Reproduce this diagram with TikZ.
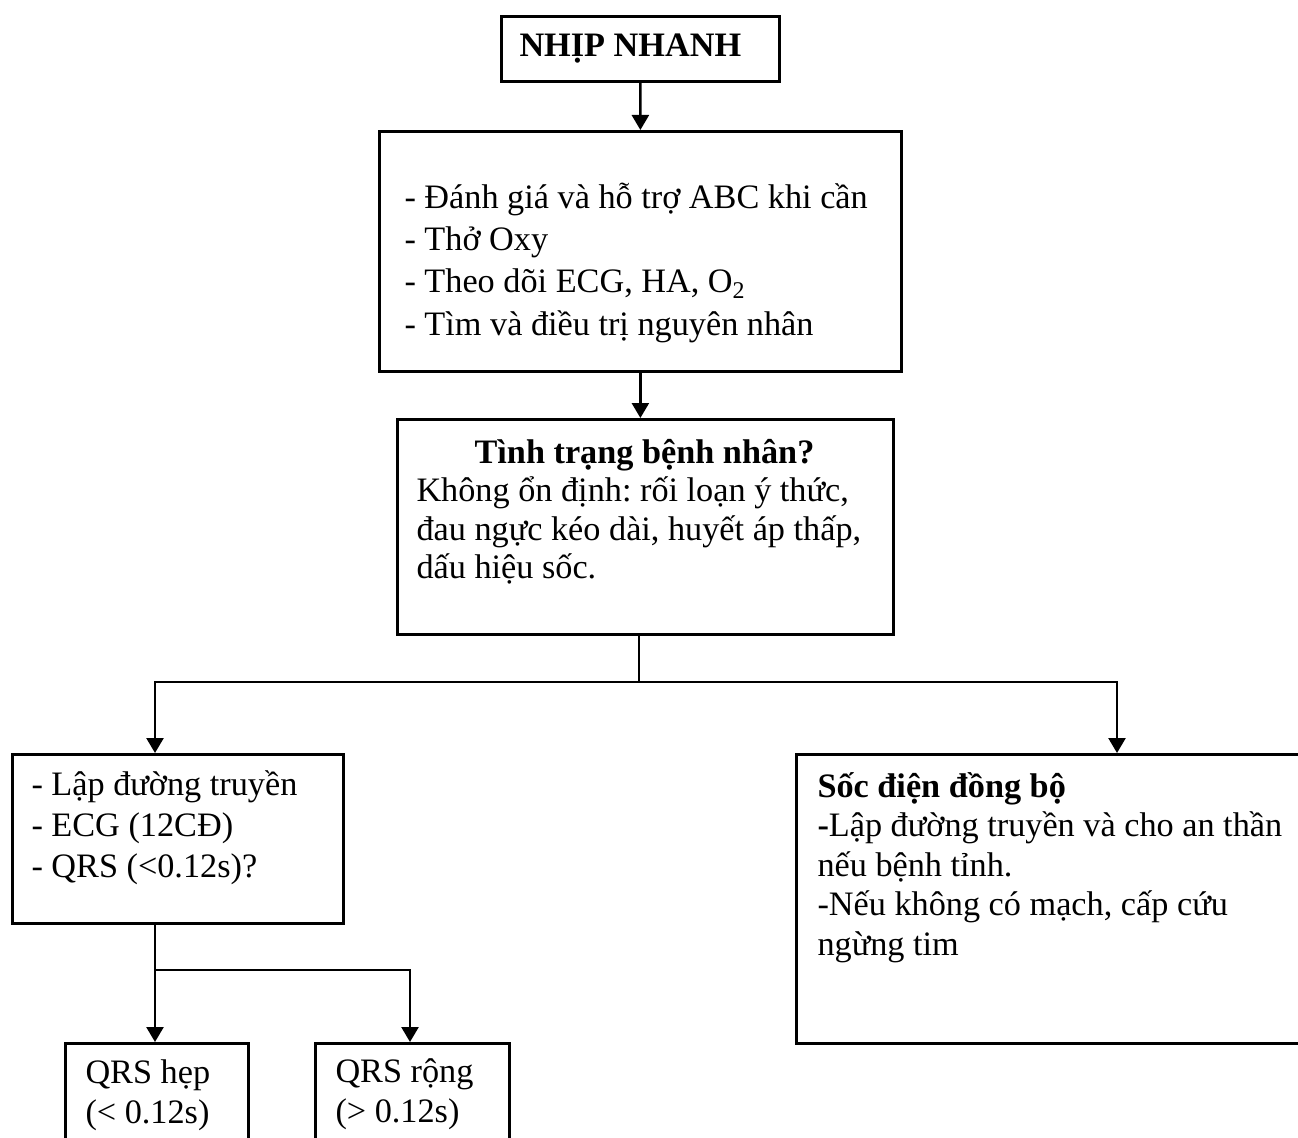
\documentclass[tikz,border=0pt]{standalone}
\usepackage{fontspec}
\setmainfont{Liberation Serif}
\usepackage{tikz}
\usetikzlibrary{arrows.meta}
\frenchspacing

\begin{document}
\begin{tikzpicture}[x=0.4pt, y=-0.4pt, >={Triangle[length=6pt, width=6.8pt]},
      box/.style={draw, line width=1.1pt, inner sep=0pt, anchor=north west},
      txt/.style={anchor=base west, inner sep=0pt, align=flush left, text width=#1,
                  font=\fontsize{13.7}{16.8}\selectfont},
      link/.style={line width=1pt}]

    \useasboundingbox (0,0) rectangle (1298,1138);
    \clip (0,0) rectangle (1298,1138);

    \node[box, minimum width=111.2pt, minimum height=26pt] (nhip) at (500,15) {};
    \node[box, minimum width=208.8pt, minimum height=96pt] (abc) at (378,130) {};
    \node[box, minimum width=198.4pt, minimum height=86pt] (tinhtrang) at (396,418) {};
    \node[box, minimum width=132.4pt, minimum height=67.6pt] (lap) at (11,753) {};
    \node[box, minimum width=204.4pt, minimum height=115.6pt] (soc) at (795,753) {};
    \node[box, minimum width=73.2pt, minimum height=44pt] (hep) at (64,1042) {};
    \node[box, minimum width=77.6pt, minimum height=44pt] (rong) at (314,1042) {};

    \node[txt=120pt] (nhip-t) at (519,57) {\textbf{NHỊP NHANH}};
    \node[txt=200pt] (abc-t) at (404,209) {- Đánh giá và hỗ trợ ABC khi cần\\
      - Thở Oxy\\ - Theo dõi ECG, HA, O\textsubscript{2}\\ - Tìm và điều trị nguyên nhân};
    \node[txt=200pt, font=\fontsize{13.7}{15.4}\selectfont] (tinhtrang-t) at (416,463)
      {\makebox[182.4pt]{\textbf{Tình trạng bệnh nhân?}}\\ Không ổn định: rối loạn ý thức,\\
       đau ngực kéo dài, huyết áp thấp,\\ dấu hiệu sốc.};
    \node[txt=125pt, font=\fontsize{13.7}{16.4}\selectfont] (lap-t) at (31,795)
      {- Lập đường truyền\\ - ECG (12CĐ)\\ - QRS (<0.12s)?};
    \node[txt=195pt, font=\fontsize{13.7}{15.8}\selectfont] (soc-t) at (817,797)
      {\textbf{Sốc điện đồng bộ}\\ \textbf{-}Lập đường truyền và cho an thần\\
       nếu bệnh tỉnh.\\ -Nếu không có mạch, cấp cứu\\ ngừng tim};
    \node[txt=65pt, font=\fontsize{13.7}{16}\selectfont] (hep-t) at (85,1083) {QRS hẹp\\ (< 0.12s)};
    \node[txt=65pt, font=\fontsize{13.7}{16}\selectfont] (rong-t) at (335,1082) {QRS rộng\\ (> 0.12s)};

    \coordinate (split) at (639,682);
    \coordinate (jL) at (155,682);
    \coordinate (jR) at (1117,682);
    \coordinate (jQ) at (155,970);
    \coordinate (jQR) at (410,970);

    \draw[link, ->] (nhip.south) -- (abc.north);
    \draw[link, ->] (abc.south) -- (abc.south |- tinhtrang.north);
    \draw[link] (tinhtrang.south -| split) -- (split);
    \draw[link, ->] (split) -- (jL) -- (jL |- lap.north);
    \draw[link, ->] (split) -- (jR) -- (jR |- soc.north);
    \draw[link] (lap.south -| jQ) -- (jQ);
    \draw[link, ->] (jQ) -- (jQ |- hep.north);
    \draw[link, ->] (jQ) -- (jQR) -- (jQR |- rong.north);
  \end{tikzpicture}
\end{document}
